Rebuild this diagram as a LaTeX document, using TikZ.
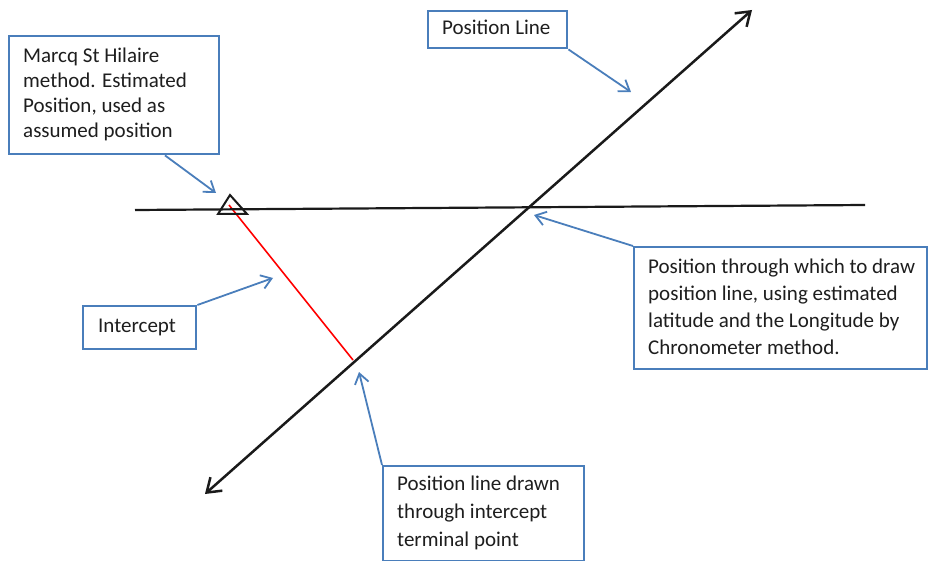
\documentclass[tikz,border=0pt]{standalone}
\usepackage{fontspec}
\setmainfont{Carlito}
\usetikzlibrary{arrows.meta}
\definecolor{bxblue}{RGB}{74,126,187}
\definecolor{ink}{RGB}{26,26,26}
\definecolor{txtc}{RGB}{30,30,30}
\begin{document}
\begin{tikzpicture}[x=1pt,y=-1pt,
  box/.style={draw=bxblue, line width=2.4pt, anchor=north west, inner sep=0pt, fill=white},
  txt/.style={anchor=north west, inner sep=0pt, align=left, text=txtc},
  callout/.style={draw=bxblue, line width=1.8pt, -{Straight Barb[length=10pt,width=14pt,line width=1.8pt]}},
  mainline/.style={draw=ink, line width=2.5pt}]
\useasboundingbox (0,0) rectangle (928,561);
% main lines
\coordinate (hl) at (135,210);
\coordinate (hr) at (865,205);
\coordinate (dl) at (205,494);
\coordinate (du) at (752,10);
\coordinate (ep) at (229,205);
\coordinate (ip) at (353,360);
\draw[red, line width=1.6pt] (ep) -- (ip);
\draw[draw=ink, line width=2.2pt] (hl) -- (hr);
\draw[mainline, {Straight Barb[length=13pt,width=18pt,line width=2.5pt]}-{Straight Barb[length=13pt,width=18pt,line width=2.5pt]}] (dl) -- (du);
\draw[draw=ink, line width=2pt, line join=miter] (230,195) -- (247,214) -- (218,214) -- cycle;
% boxes
\node[box, minimum width=210pt, minimum height=118pt] (b1) at (8,35) {};
\node[txt, font=\fontsize{21}{25}\selectfont] (t1) at (23,44.5) {\strut Marcq St Hilaire\\method. Estimated\\Position, used as\\assumed position};
\node[box, minimum width=139pt, minimum height=37pt] (b2) at (427,10) {};
\node[txt, font=\fontsize{21}{25}\selectfont] (t2) at (442,16.5) {\strut Position Line};
\node[box, minimum width=293pt, minimum height=122pt] (b3) at (633,246) {};
\node[txt, font=\fontsize{21}{27}\selectfont] (t3) at (648,254.1) {\strut Position through which to draw\\position line, using estimated\\latitude and the Longitude by\\Chronometer method.};
\node[box, minimum width=201pt, minimum height=95pt] (b4) at (382,465) {};
\node[txt, font=\fontsize{21}{28}\selectfont] (t4) at (397,470.4) {\strut Position line drawn\\through intercept\\terminal point};
\node[box, minimum width=113pt, minimum height=43pt] (b5) at (82,305) {};
\node[txt, font=\fontsize{21}{25}\selectfont] (t5) at (98,314.5) {\strut Intercept};
% callout arrows
\coordinate (c1) at (216,193);
\coordinate (c2) at (631,92);
\coordinate (c3) at (534,215);
\coordinate (c4) at (359,372);
\coordinate (c5) at (273,278);
\draw[callout] ([xshift=157pt]b1.south west) -- (c1);
\draw[callout] (b2.south east) -- (c2);
\draw[callout] (b3.north west) -- (c3);
\draw[callout] (b4.north west) -- (c4);
\draw[callout] (b5.north east) -- (c5);
\end{tikzpicture}
\end{document}
